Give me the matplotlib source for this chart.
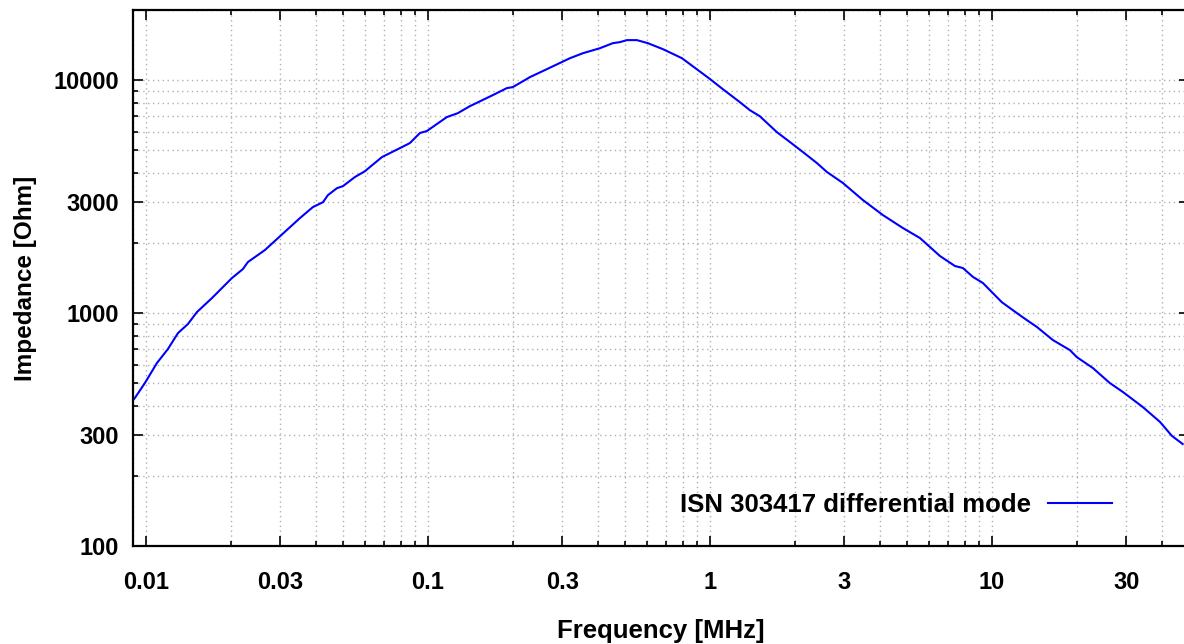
import numpy as np
import matplotlib
matplotlib.use('Agg')
import matplotlib.pyplot as plt
from matplotlib.ticker import FixedLocator, NullFormatter

# frequency [MHz] and impedance [Ohm]
freq = [0.0090, 0.00914, 0.00992, 0.01094, 0.01197, 0.01299, 0.01409, 0.01517,
        0.01714, 0.02018, 0.02208, 0.02300, 0.02642, 0.03516, 0.03910, 0.04246,
        0.04420, 0.04757, 0.04998, 0.05508, 0.05978, 0.06871, 0.07960, 0.08630,
        0.09370, 0.09910, 0.1167, 0.1277, 0.1409, 0.1699, 0.1905, 0.2000,
        0.2207, 0.2300, 0.2557, 0.3190, 0.3548, 0.4074, 0.4529, 0.4797,
        0.5080, 0.5508, 0.6026, 0.6813, 0.7960, 0.9908, 1.111, 1.276,
        1.386, 1.503, 1.728, 1.923, 2.138, 2.396, 2.600, 2.963,
        3.489, 4.105, 4.831, 5.559, 6.546, 7.396, 7.889, 8.570,
        9.291, 10.84, 12.26, 13.30, 14.45, 16.45, 18.92, 20.00,
        22.80, 26.18, 29.17, 34.28, 39.45, 43.48, 47.5]
imp = [423, 432, 501, 610, 701, 820, 897, 1010,
       1159, 1413, 1545, 1656, 1864, 2556, 2851, 2992,
       3208, 3436, 3507, 3835, 4064, 4673, 5107, 5366,
       5929, 6043, 6938, 7215, 7731, 8622, 9240, 9333,
       10000, 10300, 10940, 12420, 13050, 13710, 14410, 14560,
       14850, 14850, 14410, 13580, 12420, 10200, 9150, 8050,
       7430, 7000, 5980, 5420, 4910, 4405, 4033, 3617,
       3055, 2635, 2319, 2099, 1757, 1592, 1561, 1429,
       1346, 1114, 1000, 933, 871, 766, 693, 647,
       581, 501, 458, 395, 341, 297, 274]

x_major = [0.01, 0.03, 0.1, 0.3, 1, 3, 10, 30]
x_labels = ['0.01', '0.03', '0.1', '0.3', '1', '3', '10', '30']
y_major = [100, 300, 1000, 3000, 10000]
y_labels = ['100', '300', '1000', '3000', '10000']

plt.rcParams['font.family'] = ['Liberation Sans', 'DejaVu Sans']
plt.rcParams['font.weight'] = 'bold'
plt.rcParams['font.size'] = 17

fig = plt.figure(figsize=(11.84, 6.44), dpi=100)
ax = fig.add_axes([133 / 1184, 98 / 644, 1056 / 1184, 536 / 644])

ax.plot(freq, imp, color='#0000ff', lw=1.5, label='ISN 303417 differential mode')
ax.set_xscale('log')
ax.set_yscale('log')
ax.set_xlim(0.009, 50)
ax.set_ylim(100, 20000)

x_minor = [m * 10.0 ** k for k in range(-3, 2) for m in range(1, 10)]
x_minor = [v for v in x_minor if 0.009 <= v <= 50 and v not in x_major]
y_minor = [m * 10.0 ** k for k in range(2, 5) for m in range(1, 10)]
y_minor = [v for v in y_minor if 100 <= v <= 20000 and v not in y_major]

ax.xaxis.set_major_locator(FixedLocator(x_major))
ax.set_xticklabels(x_labels, fontweight='bold')
ax.xaxis.set_minor_locator(FixedLocator(x_minor))
ax.xaxis.set_minor_formatter(NullFormatter())
ax.yaxis.set_major_locator(FixedLocator(y_major))
ax.set_yticklabels(y_labels, fontweight='bold')
ax.yaxis.set_minor_locator(FixedLocator(y_minor))
ax.yaxis.set_minor_formatter(NullFormatter())

ax.tick_params(which='both', direction='in', top=True, right=True, width=1.2, colors='black')
ax.tick_params(which='major', length=7)
ax.tick_params(which='minor', length=3.5)
ax.tick_params(axis='x', which='major', pad=18)
ax.tick_params(axis='y', which='major', pad=10)

ax.grid(which='both', color='#b0b0b0', linestyle=(0, (1, 2.5)), linewidth=1.0)
ax.set_axisbelow(True)
for s in ax.spines.values():
    s.set_linewidth(1.6)

ax.set_xlabel('Frequency [MHz]', fontweight='bold', fontsize=18.5, labelpad=18)
ax.set_ylabel('Impedance [Ohm]', fontweight='bold', fontsize=17.5, labelpad=12)

ax.legend(loc='center right', bbox_to_anchor=(0.927, 0.0765), frameon=False,
          markerfirst=False, handlelength=2.5, handletextpad=0.65,
          borderpad=0, borderaxespad=0, prop={'weight': 'bold', 'size': 18.5})

fig.savefig('out.png', dpi=100)
